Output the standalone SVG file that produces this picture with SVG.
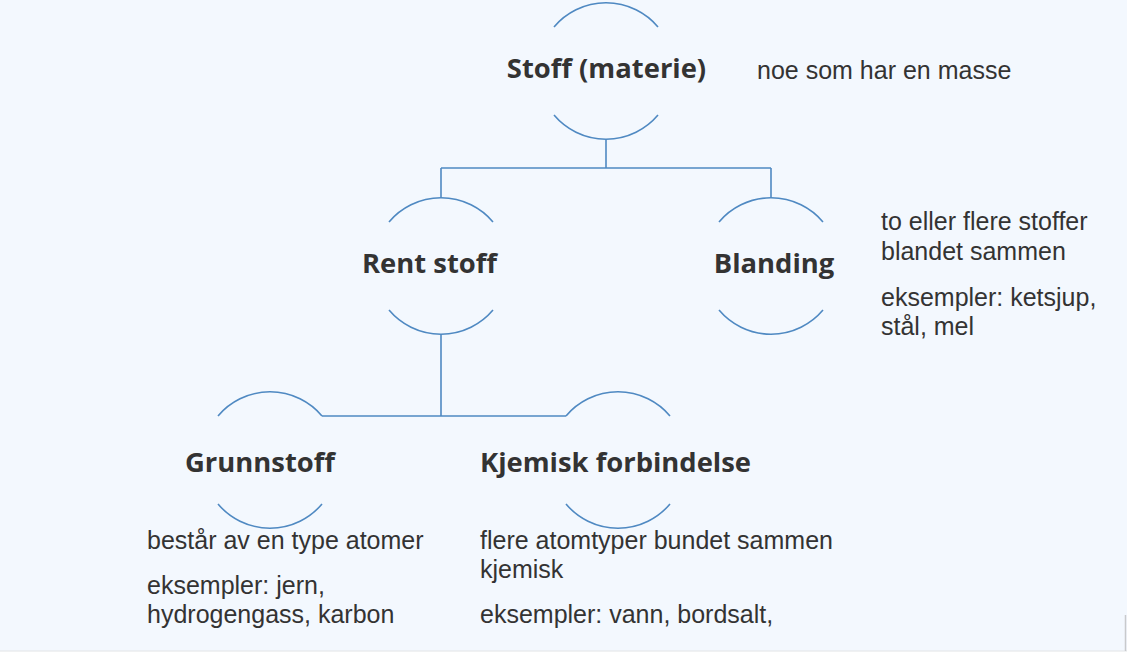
<svg xmlns="http://www.w3.org/2000/svg" width="1127" height="654" viewBox="0 0 1127 654">
<style>
.arc{fill:none;stroke:#4f89c2;stroke-width:1.6}
.con{fill:none;stroke:#4f89c2;stroke-width:1.6}
.t{font-family:"Open Sans","Noto Sans",sans-serif;font-weight:bold;font-size:27.4px;fill:#333;text-anchor:middle}
.n{font-family:"Liberation Sans",Arial,sans-serif;font-size:25px;fill:#333}
</style>
<rect width="1127" height="654" fill="#f3f8fe"/>
<rect x="0" y="651" width="1127" height="3" fill="#ffffff"/>
<line x1="0" y1="651" x2="1127" y2="651" stroke="#e2e4e6" stroke-width="1"/>
<line x1="1125.5" y1="615" x2="1125.5" y2="651" stroke="#c8cacc" stroke-width="1.5"/>
<g id="connectors">
<path class="con" d="M606 139 V168 M441 168 H771 M441 168 V198 M771 168 V198 M441 334 V416 M322 416 H566"/>
</g>
<g id="stoff">
<path class="arc" d="M554 27 A68 68 0 0 1 658 27 M554 115 A68 68 0 0 0 658 115"/>
<text class="t" x="606.5" y="78">Stoff (materie)</text>
<text class="n" x="757" y="79">noe som har en masse</text>
</g>
<g id="rent">
<path class="arc" d="M389 222 A68 68 0 0 1 493 222 M389 310 A68 68 0 0 0 493 310"/>
<text class="t" x="429.5" y="273">Rent stoff</text>
</g>
<g id="blanding">
<path class="arc" d="M719 222 A68 68 0 0 1 823 222 M719 310 A68 68 0 0 0 823 310"/>
<text class="t" x="774" y="273">Blanding</text>
<text class="n" x="881" y="230">to eller flere stoffer</text>
<text class="n" x="881" y="260">blandet sammen</text>
<text class="n" x="881" y="306">eksempler: ketsjup,</text>
<text class="n" x="881" y="335">stål, mel</text>
</g>
<g id="grunnstoff">
<path class="arc" d="M218 416 A68 68 0 0 1 322 416 M218 504 A68 68 0 0 0 322 504"/>
<text class="t" x="260" y="472">Grunnstoff</text>
<text class="n" x="147" y="549">består av en type atomer</text>
<text class="n" x="147" y="594">eksempler: jern,</text>
<text class="n" x="147" y="623">hydrogengass, karbon</text>
</g>
<g id="kjemisk">
<path class="arc" d="M566 416 A68 68 0 0 1 670 416 M566 504 A68 68 0 0 0 670 504"/>
<text class="t" x="615.5" y="472">Kjemisk forbindelse</text>
<text class="n" x="480" y="549">flere atomtyper bundet sammen</text>
<text class="n" x="480" y="578">kjemisk</text>
<text class="n" x="480" y="623">eksempler: vann, bordsalt,</text>
</g>
</svg>
